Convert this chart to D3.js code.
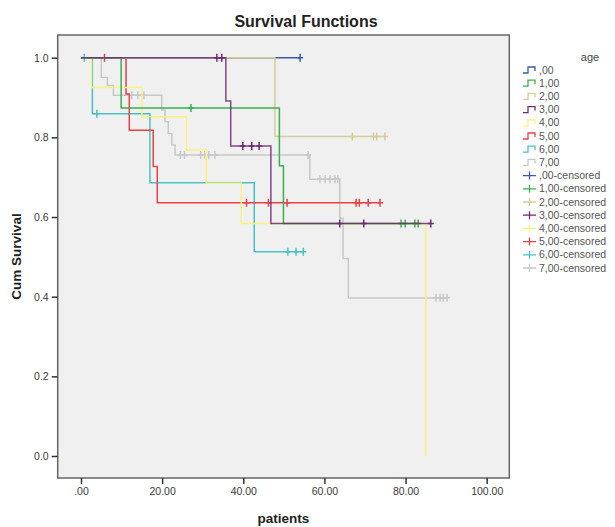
<!DOCTYPE html>
<html>
<head>
<meta charset="utf-8">
<script src="https://cdn.jsdelivr.net/npm/d3@7"></script>
<style>
	body { margin: 0; background: #fff; }
	text { font-family: "Liberation Sans", Arial, sans-serif; }
</style>
</head>
<body>
<div id="divplot"></div>
<script>
// Kaplan-Meier survival by age group

const groups = [',00', '1,00', '2,00', '3,00', '4,00', '5,00', '6,00', '7,00']

// event times and survival after each event
const eventTimes = [
	[],
	[9.9, 48.9, 49.9],
	[47.8],
	[35.7, 36.9, 46.8],
	[2.6, 15.0, 26.0, 30.9, 39.5, 85.0],
	[11.1, 11.9, 17.8, 18.8],
	[2.8, 17.0, 42.7],
	[5.0, 6.5, 8.0, 19.9, 20.7, 21.5, 22.4, 23.2, 56.4, 63.8, 64.6, 65.9]
]
const survival = [
	[],
	[0.874, 0.729, 0.584],
	[0.802],
	[0.891, 0.778, 0.584],
	[0.925, 0.852, 0.768, 0.685, 0.584, 0.0],
	[0.909, 0.818, 0.727, 0.636],
	[0.859, 0.686, 0.513],
	[0.95, 0.93, 0.906, 0.869, 0.839, 0.81, 0.781, 0.756, 0.695, 0.597, 0.496, 0.397]
]
const censorTimes = [
	[54.0],
	[27.1, 78.9, 79.9, 82.3, 83.1],
	[66.9, 72.1, 72.9, 74.9],
	[33.5, 34.7, 39.9, 42.1, 43.9, 63.8, 69.7, 86.2],
	[],
	[5.8, 40.8, 46.2, 50.8, 67.8, 68.6, 70.8, 73.7],
	[0.8, 3.9, 51.0, 53.0, 54.8],
	[12.5, 14.0, 15.5, 24.5, 25.5, 29.5, 30.5, 31.5, 33.0, 56.0, 58.9, 60.2, 61.4, 62.6, 63.3, 87.5, 88.5, 89.3, 90.2]
]

const xTicks = [0, 20, 40, 60, 80, 100]
const yTicks = [0, 0.2, 0.4, 0.6, 0.8, 1.0]

const colors = ['#3e58ac', '#38b050', '#d3ce97', '#6e2a72', '#f8f27e', '#ec4044', '#48c2c5', '#c8c8c8']
// drawing order (last on top)
const drawOrder = [7, 6, 5, 4, 0, 2, 1, 3]

const width = 615
const height = 527
const frame = { left: 57.7, right: 509.3, top: 35, bottom: 478 }

let xScale = d3.scaleLinear()
	.domain([0, 100])
	.range([81, 486.7])

let yScale = d3.scaleLinear()
	.domain([0, 1])
	.range([456, 57.7])

let svg = d3.select('#divplot')
	.append('svg')
	.attr('width', width)
	.attr('height', height)

svg.append('rect')
	.attr('x', frame.left)
	.attr('y', frame.top)
	.attr('width', frame.right - frame.left)
	.attr('height', frame.bottom - frame.top)
	.attr('fill', '#f0f0f0')
	.attr('stroke', '#666')
	.attr('stroke-width', 1.5)

// axes
let xAxis = svg.append('g')
	.attr('transform', `translate(0,${frame.bottom})`)
	.call(d3.axisBottom(xScale)
		.tickValues(xTicks)
		.tickSize(6)
		.tickPadding(4)
		.tickFormat(d => d === 0 ? '.00' : d.toFixed(2)))
let yAxis = svg.append('g')
	.attr('transform', `translate(${frame.left},0)`)
	.call(d3.axisLeft(yScale)
		.tickValues(yTicks)
		.tickSize(6)
		.tickPadding(3)
		.tickFormat(d3.format('.1f')))

for (const ax of [xAxis, yAxis]) {
	ax.select('.domain').remove()
	ax.selectAll('line').attr('stroke', '#333').attr('stroke-width', 1.5)
	ax.selectAll('text')
		.attr('fill', '#3a3a3a')
		.style('font-size', '10.5px')
		.style('font-family', '"Liberation Sans", Arial, sans-serif')
}

// survival value at time t (step function)
const survAt = (g, t) => {
	let s = 1
	eventTimes[g].forEach((et, i) => { if (et <= t) s = survival[g][i] })
	return s
}

let line = d3.line()
	.x(d => xScale(d[0]))
	.y(d => yScale(d[1]))
	.curve(d3.curveStepAfter)

let curves = svg.append('g')

drawOrder.forEach(g => {
	let pts = [[0, 1]]
	eventTimes[g].forEach((t, i) => pts.push([t, survival[g][i]]))
	let tEnd = Math.max(0, ...eventTimes[g], ...censorTimes[g])
	pts.push([tEnd, survAt(g, tEnd)])

	curves.append('path')
		.attr('d', line(pts))
		.attr('fill', 'none')
		.attr('stroke', colors[g])
		.attr('stroke-width', 1.5)
		.attr('stroke-opacity', g === 3 ? 0.85 : 1)

	curves.selectAll(null)
		.data(censorTimes[g])
		.enter()
		.append('path')
		.attr('d', t => {
			let x = xScale(t), y = yScale(survAt(g, t))
			return `M${x},${y - 4}V${y + 4}M${x - 3},${y}H${x + 3}`
		})
		.attr('stroke', colors[g])
		.attr('stroke-width', 1.5)
		.attr('fill', 'none')
})

// titles
svg.append('text')
	.attr('x', 306)
	.attr('y', 27)
	.attr('text-anchor', 'middle')
	.style('font-size', '16px')
	.style('font-weight', 'bold')
	.attr('fill', '#222')
	.text('Survival Functions')

svg.append('text')
	.attr('transform', `translate(21,${(frame.top + frame.bottom) / 2}) rotate(-90)`)
	.attr('text-anchor', 'middle')
	.style('font-size', '13.5px')
	.style('font-weight', 'bold')
	.attr('fill', '#222')
	.text('Cum Survival')

svg.append('text')
	.attr('x', (frame.left + frame.right) / 2)
	.attr('y', 523)
	.attr('text-anchor', 'middle')
	.style('font-size', '13.5px')
	.style('font-weight', 'bold')
	.attr('fill', '#222')
	.text('patients')

// legend
let legend = svg.append('g')
legend.append('text')
	.attr('x', 590)
	.attr('y', 61)
	.attr('text-anchor', 'middle')
	.style('font-size', '11px')
	.attr('fill', '#444')
	.text('age')

let items = groups.map((name, i) => ({ name: name, g: i, censored: false }))
	.concat(groups.map((name, i) => ({ name: name + '-censored', g: i, censored: true })))

legend.selectAll('g.item')
	.data(items)
	.enter()
	.append('g')
	.attr('class', 'item')
	.attr('transform', (d, i) => `translate(523,${70 + i * 13.2})`)
	.each(function (d) {
		let item = d3.select(this)
		item.append('path')
			.attr('d', d.censored ? 'M0,0H13M6.5,-4V4' : 'M0,3H5V-3H12V1')
			.attr('fill', 'none')
			.attr('stroke', colors[d.g])
			.attr('stroke-width', 1.3)
		item.append('text')
			.attr('x', 16)
			.attr('dy', '0.35em')
			.style('font-size', '10.5px')
			.attr('fill', '#555')
			.text(d.name)
	})
</script>
</body>
</html>
